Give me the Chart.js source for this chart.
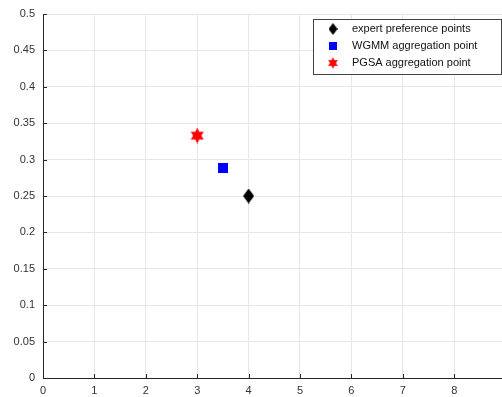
<!DOCTYPE html>
<html>
<head>
<meta charset="utf-8">
<script src="https://cdn.jsdelivr.net/npm/chart.js@4"></script>
<style>
  html, body { margin: 0; padding: 0; background: #fff; }
  #wrap { width: 502px; height: 397px; position: relative; }
</style>
</head>
<body>
<div id="wrap"><canvas id="c" width="502" height="397"></canvas></div>
<script>
const seriesNames = ["expert preference points", "WGMM aggregation point", "PGSA aggregation point"]
const expertPoints = [{ x: 4, y: 0.25 }]
const wgmmPoints = [{ x: 3.5, y: 0.289 }]
const pgsaPoints = [{ x: 3, y: 0.333 }]
const xTicks = [0, 1, 2, 3, 4, 5, 6, 7, 8]
const yTicks = [0, 0.05, 0.1, 0.15, 0.2, 0.25, 0.3, 0.35, 0.4, 0.45, 0.5]

function diamondIcon(w, h, color) {
  const c = document.createElement("canvas")
  c.width = w; c.height = h
  const g = c.getContext("2d")
  g.fillStyle = color
  g.beginPath()
  g.moveTo(w / 2, 0); g.lineTo(w, h / 2); g.lineTo(w / 2, h); g.lineTo(0, h / 2)
  g.closePath(); g.fill()
  return c
}

function squareIcon(s, color) {
  const c = document.createElement("canvas")
  c.width = s; c.height = s
  const g = c.getContext("2d")
  g.fillStyle = color
  g.fillRect(0, 0, s, s)
  return c
}

function hexagramIcon(w, h, color) {
  const c = document.createElement("canvas")
  c.width = w; c.height = h
  const g = c.getContext("2d")
  const cx = w / 2, cy = h / 2, ro = h / 2, ri = ro * 0.55
  g.fillStyle = color
  g.beginPath()
  for (let i = 0; i < 12; i++) {
    const r = i % 2 === 0 ? ro : ri
    const a = -Math.PI / 2 + i * Math.PI / 6
    const px = cx + r * Math.cos(a) * (w / h), py = cy + r * Math.sin(a)
    if (i === 0) g.moveTo(px, py); else g.lineTo(px, py)
  }
  g.closePath(); g.fill()
  return c
}

const icons = [diamondIcon(11, 15, "#000"), squareIcon(10, "#0000ff"), hexagramIcon(15, 16, "#ff0000")]
const legendIcons = [diamondIcon(9, 12, "#000"), squareIcon(8, "#0000ff"), hexagramIcon(11, 12, "#ff0000")]

// matlab-style tick marks pointing into the plot
const innerTicks = {
  id: "innerTicks",
  afterDatasetsDraw(chart) {
    const { ctx, chartArea, scales } = chart
    ctx.save()
    ctx.strokeStyle = "#262626"
    ctx.lineWidth = 1
    ctx.beginPath()
    xTicks.forEach(v => {
      const px = Math.round(scales.x.getPixelForValue(v)) + 0.5
      ctx.moveTo(px, chartArea.bottom); ctx.lineTo(px, chartArea.bottom - 4)
    })
    yTicks.forEach(v => {
      const py = Math.round(scales.y.getPixelForValue(v)) + 0.5
      ctx.moveTo(chartArea.left, py); ctx.lineTo(chartArea.left + 4, py)
    })
    ctx.stroke()
    ctx.restore()
  }
}

const boxLegend = {
  id: "boxLegend",
  afterDraw(chart) {
    const ctx = chart.ctx
    ctx.save()
    ctx.fillStyle = "#fff"
    ctx.fillRect(313, 19, 188, 55)
    ctx.strokeStyle = "#444"
    ctx.lineWidth = 1
    ctx.strokeRect(313.5, 19.5, 188, 55)
    ctx.font = "11px 'Liberation Sans', Arial, sans-serif"
    ctx.fillStyle = "#111"
    ctx.textBaseline = "middle"
    const rows = [29, 46, 63]
    seriesNames.forEach((name, i) => {
      const ic = legendIcons[i]
      ctx.drawImage(ic, 333 - ic.width / 2, rows[i] - ic.height / 2)
      ctx.fillText(name, 352, rows[i])
    })
    ctx.restore()
  }
}

const datasets = [expertPoints, wgmmPoints, pgsaPoints].map((pts, i) => ({
  label: seriesNames[i],
  data: pts,
  pointStyle: icons[i],
  pointRadius: 8,
  pointHoverRadius: 8
}))

new Chart(document.getElementById("c"), {
  type: "scatter",
  data: { datasets },
  options: {
    responsive: false,
    animation: false,
    events: [],
    layout: { autoPadding: false, padding: { top: 14, right: 0, left: 0, bottom: 0 } },
    plugins: { legend: { display: false }, tooltip: { enabled: false } },
    scales: {
      x: {
        type: "linear",
        min: 0,
        max: 8.93,
        afterBuildTicks: s => { s.ticks = xTicks.map(v => ({ value: v })) },
        afterFit: s => { s.height = 19; s.paddingLeft = 0; s.paddingRight = 0 },
        grid: { color: "#e6e6e6", drawTicks: false },
        border: { color: "#262626", width: 1 },
        ticks: {
          padding: 6,
          color: "#333",
          font: { family: "'Liberation Sans', Arial, sans-serif", size: 11 },
          maxRotation: 0
        }
      },
      y: {
        type: "linear",
        min: 0,
        max: 0.5,
        afterBuildTicks: s => { s.ticks = yTicks.map(v => ({ value: v })) },
        afterFit: s => { s.width = 43; s.paddingTop = 0; s.paddingBottom = 0 },
        grid: { color: "#e6e6e6", drawTicks: false },
        border: { color: "#262626", width: 1 },
        ticks: {
          padding: 8,
          color: "#333",
          font: { family: "'Liberation Sans', Arial, sans-serif", size: 11 },
          callback: v => String(Math.round(v * 100) / 100)
        }
      }
    }
  },
  plugins: [innerTicks, boxLegend]
})
</script>
</body>
</html>
